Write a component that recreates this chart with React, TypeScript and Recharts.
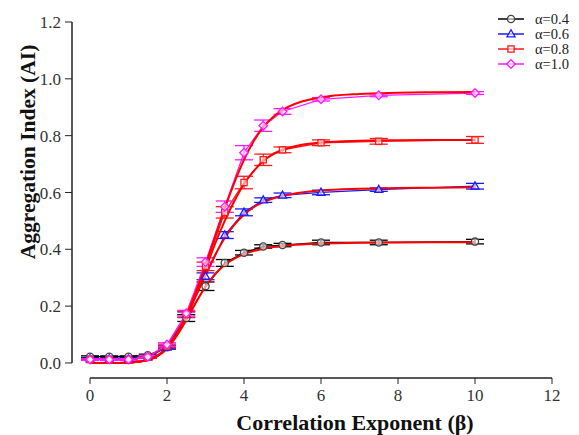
import React from 'react';
import { ComposedChart, Line, XAxis, YAxis, ErrorBar, ReferenceLine, Legend, Label } from 'recharts';

// Measured points (beta values)
const betaValues = [0, 0.5, 1, 1.5, 2, 2.5, 3, 3.5, 4, 4.5, 5, 6, 7.5, 10];

const alpha04 = [0.022, 0.022, 0.022, 0.027, 0.055, 0.158, 0.27, 0.352, 0.388, 0.41, 0.415, 0.424, 0.424, 0.427];
const alpha04Err = [0.003, 0.003, 0.003, 0.004, 0.006, 0.012, 0.015, 0.012, 0.008, 0.006, 0.006, 0.008, 0.008, 0.008];

const alpha06 = [0.014, 0.014, 0.014, 0.02, 0.055, 0.17, 0.305, 0.45, 0.53, 0.573, 0.59, 0.6, 0.61, 0.622];
const alpha06Err = [0.003, 0.003, 0.003, 0.004, 0.006, 0.01, 0.012, 0.012, 0.012, 0.008, 0.008, 0.008, 0.006, 0.01];

const alpha08 = [0.012, 0.012, 0.012, 0.02, 0.06, 0.17, 0.34, 0.53, 0.635, 0.715, 0.75, 0.775, 0.78, 0.785];
const alpha08Err = [0.003, 0.003, 0.003, 0.004, 0.006, 0.01, 0.015, 0.02, 0.022, 0.02, 0.01, 0.01, 0.01, 0.012];

const alpha10 = [0.012, 0.012, 0.012, 0.022, 0.065, 0.175, 0.355, 0.55, 0.74, 0.835, 0.885, 0.928, 0.942, 0.95];
const alpha10Err = [0.003, 0.003, 0.003, 0.004, 0.006, 0.01, 0.015, 0.02, 0.025, 0.02, 0.01, 0.006, 0.005, 0.005];

// Fitted curves
const fitBeta = [0, 0.5, 1, 1.25, 1.5, 1.75, 2, 2.25, 2.5, 2.75, 3, 3.25, 3.5, 3.75, 4, 4.25, 4.5, 4.75, 5, 5.5, 6, 7, 8, 9, 10];
const fit10 = [0, 0, 0.001, 0.004, 0.01, 0.025, 0.055, 0.1, 0.165, 0.25, 0.345, 0.445, 0.545, 0.635, 0.715, 0.78, 0.83, 0.865, 0.89, 0.92, 0.935, 0.947, 0.951, 0.953, 0.954];
const fit08 = [0, 0, 0.001, 0.004, 0.01, 0.025, 0.055, 0.1, 0.165, 0.245, 0.33, 0.42, 0.5, 0.57, 0.63, 0.675, 0.71, 0.735, 0.75, 0.768, 0.776, 0.782, 0.784, 0.785, 0.785];
const fit06 = [0, 0, 0.001, 0.004, 0.01, 0.025, 0.053, 0.097, 0.16, 0.235, 0.31, 0.38, 0.44, 0.487, 0.522, 0.548, 0.566, 0.579, 0.588, 0.6, 0.607, 0.613, 0.616, 0.617, 0.618];
const fit04 = [0, 0, 0.001, 0.004, 0.01, 0.024, 0.05, 0.095, 0.15, 0.212, 0.268, 0.313, 0.345, 0.367, 0.383, 0.394, 0.402, 0.408, 0.412, 0.417, 0.42, 0.423, 0.424, 0.425, 0.425];

const xTicks = [0, 2, 4, 6, 8, 10, 12];
const yTicks = [0, 0.2, 0.4, 0.6, 0.8, 1.0, 1.2];
const legendLabels = ['α=0.4', 'α=0.6', 'α=0.8', 'α=1.0'];

const COLORS = ['#000000', '#1a1aff', '#ff1a1a', '#ff1aff'];
const FIT_COLOR = '#ff0000';
const SERIF =
  "'Liberation Serif', Tinos, 'Times New Roman', Times, 'Nimbus Roman', 'Nimbus Roman No9 L', FreeSerif, 'Noto Serif', 'DejaVu Serif', serif";
const serifStyle = { fontFamily: SERIF };

const toPoints = (ys: number[], errs: number[]) => betaValues.map((x, i) => ({ x, y: ys[i], err: errs[i] }));
const toFit = (ys: number[]) => fitBeta.map((x, i) => ({ x, y: ys[i] }));

const seriesData = [
  toPoints(alpha04, alpha04Err),
  toPoints(alpha06, alpha06Err),
  toPoints(alpha08, alpha08Err),
  toPoints(alpha10, alpha10Err),
];
const fitData = [toFit(fit04), toFit(fit06), toFit(fit08), toFit(fit10)];

const drawMarker = (shape: number, cx: number, cy: number, color: string, key?: any) => {
  const sw = 1.3;
  if (shape === 0) return <circle key={key} cx={cx} cy={cy} r={3.6} fill="#fff" fillOpacity={0.6} stroke="#444" strokeWidth={sw} />;
  if (shape === 1)
    return (
      <polygon key={key} points={`${cx},${cy - 4.3} ${cx - 4},${cy + 2.8} ${cx + 4},${cy + 2.8}`} fill="#fff" fillOpacity={0.6} stroke={color} strokeWidth={sw} />
    );
  if (shape === 2)
    return <rect key={key} x={cx - 3.1} y={cy - 3.1} width={6.2} height={6.2} fill="#fff" fillOpacity={0.6} stroke={color} strokeWidth={sw} />;
  return (
    <polygon key={key} points={`${cx},${cy - 4.3} ${cx + 4.3},${cy} ${cx},${cy + 4.3} ${cx - 4.3},${cy}`} fill="#fff" fillOpacity={0.6} stroke={color} strokeWidth={sw} />
  );
};

const makeDot = (shape: number, color: string) => (p: any) => {
  if (p.cx == null || p.cy == null) return <g key={p.index} />;
  return drawMarker(shape, p.cx, p.cy, color, `d${shape}-${p.index}`);
};

const LegendContent = () => (
  <svg width={89} height={76}>
    {legendLabels.map((lab, i) => {
      const y = 19 + i * 15;
      return (
        <g key={lab}>
          <line x1={8} x2={34} y1={y} y2={y} stroke={COLORS[i]} strokeWidth={1.5} />
          {drawMarker(i, 21, y, COLORS[i])}
          <text x={45} y={y + 4.5} style={serifStyle} fontSize={14.5} fill="#222">
            {lab}
          </text>
        </g>
      );
    })}
  </svg>
);

const XTitle = () => (
  <text x={355} y={430} textAnchor="middle" style={serifStyle} fontWeight="bold" fontSize={22} fill="#111">
    Correlation Exponent (β)
  </text>
);

const YTitle = () => (
  <text x={0} y={0} transform="translate(35,152) rotate(-90)" textAnchor="middle" style={serifStyle} fontWeight="bold" fontSize={21.5} fill="#111">
    Aggregation Index (AI)
  </text>
);

export default function App() {
  return (
    <div style={{ position: 'absolute', left: 0, top: 0, width: 579, height: 435, background: '#fff', fontFamily: SERIF }}>
      <ComposedChart width={579} height={435} margin={{ top: 22, right: 27, bottom: 0, left: 0 }}>
        <XAxis
          type="number"
          dataKey="x"
          domain={[-0.468, 12]}
          ticks={xTicks}
          allowDataOverflow
          axisLine={false}
          tickSize={6}
          tickMargin={5}
          height={57}
          stroke="#222"
          tick={{ fill: '#333', fontSize: 17, style: serifStyle }}
        >
          <Label content={XTitle} />
        </XAxis>
        <YAxis
          type="number"
          dataKey="y"
          domain={[-0.053, 1.2]}
          ticks={yTicks}
          allowDataOverflow
          axisLine={false}
          tickSize={7}
          tickMargin={4}
          width={72}
          stroke="#222"
          tickFormatter={(v: number) => v.toFixed(1)}
          tick={{ fill: '#333', fontSize: 17, style: serifStyle }}
        >
          <Label content={YTitle} />
        </YAxis>
        <ReferenceLine segment={[{ x: 0, y: -0.053 }, { x: 12, y: -0.053 }]} stroke="#222" strokeWidth={1.5} ifOverflow="visible" />
        <ReferenceLine segment={[{ x: -0.468, y: 0 }, { x: -0.468, y: 1.2 }]} stroke="#222" strokeWidth={1.5} ifOverflow="visible" />
        {seriesData.map((d, i) => (
          <Line
            key={`s${i}`}
            data={d}
            dataKey="y"
            type="linear"
            stroke={COLORS[i]}
            strokeWidth={1.3}
            dot={makeDot(i, COLORS[i])}
            activeDot={false}
            isAnimationActive={false}
          >
            <ErrorBar dataKey="err" width={9} stroke={i === 0 ? '#000' : COLORS[i]} strokeWidth={1.3} direction="y" />
          </Line>
        ))}
        {fitData.map((d, i) => (
          <Line
            key={`f${i}`}
            data={d}
            dataKey="y"
            type="monotone"
            stroke={FIT_COLOR}
            strokeWidth={2}
            dot={false}
            activeDot={false}
            isAnimationActive={false}
          />
        ))}
        <Legend
          layout="horizontal"
          verticalAlign="middle"
          content={LegendContent}
          wrapperStyle={{ position: 'absolute', left: 490, top: 0, width: 89, height: 76 }}
        />
      </ComposedChart>
    </div>
  );
}
